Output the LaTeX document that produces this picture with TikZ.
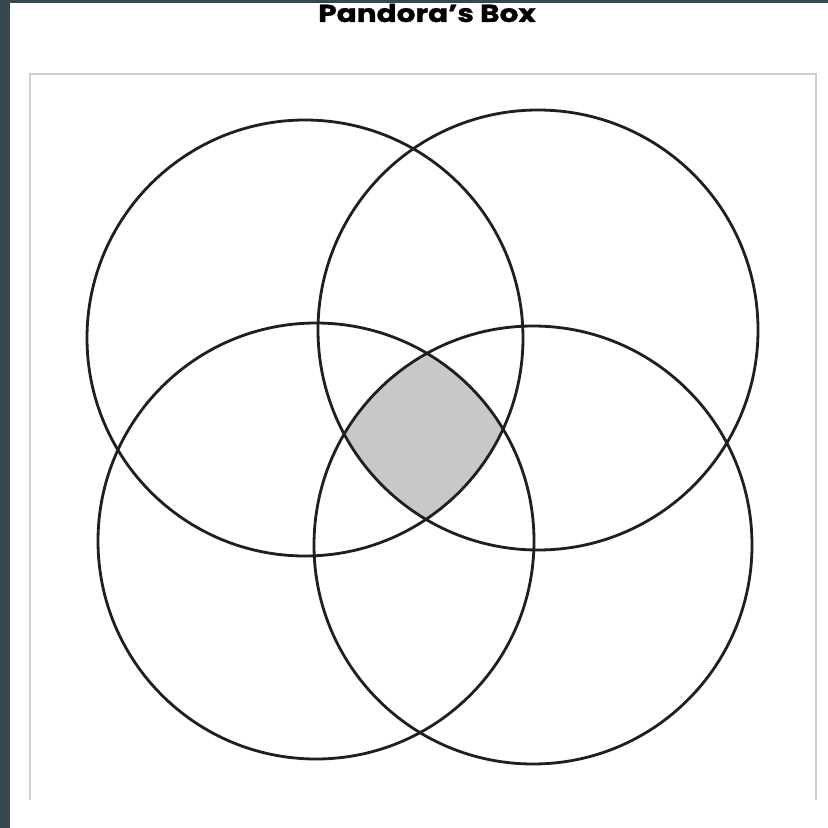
\documentclass[tikz,border=0pt]{standalone}
\usepackage{fontspec}
\newfontfamily\titlefont[FakeStretch=1.2, FakeBold=1.2]{Poppins}
\definecolor{mSlate}{HTML}{37474F}
\definecolor{mFrame}{HTML}{CFCFCF}
\definecolor{mShade}{HTML}{C8C8C8}

\begin{document}
\begin{tikzpicture}[
  x=0.1mm, y=-0.1mm,
  ring/.style={draw=black!88, line width=0.8pt},
  frame/.style={draw=mFrame, line width=0.6pt},
  heading/.style={
    font=\titlefont\bfseries\fontsize{7}{8}\selectfont,
    anchor=base,
    inner sep=0pt
  }
]

\useasboundingbox (0,0) rectangle (828,828);
\fill[white] (0,0) rectangle (828,828);
\fill[mSlate] (0,0) rectangle (10,828);
\fill[mSlate] (0,0) rectangle (828,3);

\node[heading] (title) at (427,22) {Pandora’s Box};

\draw[frame] (30,800) -- (30,74) -- (816,74) -- (816,800);

\coordinate (tl) at (305,338);
\coordinate (tr) at (538,330);
\coordinate (bl) at (316,541);
\coordinate (br) at (533,545);

% common part of all four rings
\begin{scope}
  \clip (tl) circle (218);
  \clip (tr) circle (220);
  \clip (bl) circle (218);
  \fill[mShade] (br) circle (219);
\end{scope}

\draw[ring] (tl) circle (218);
\draw[ring] (tr) circle (220);
\draw[ring] (bl) circle (218);
\draw[ring] (br) circle (219);

\end{tikzpicture}
\end{document}
